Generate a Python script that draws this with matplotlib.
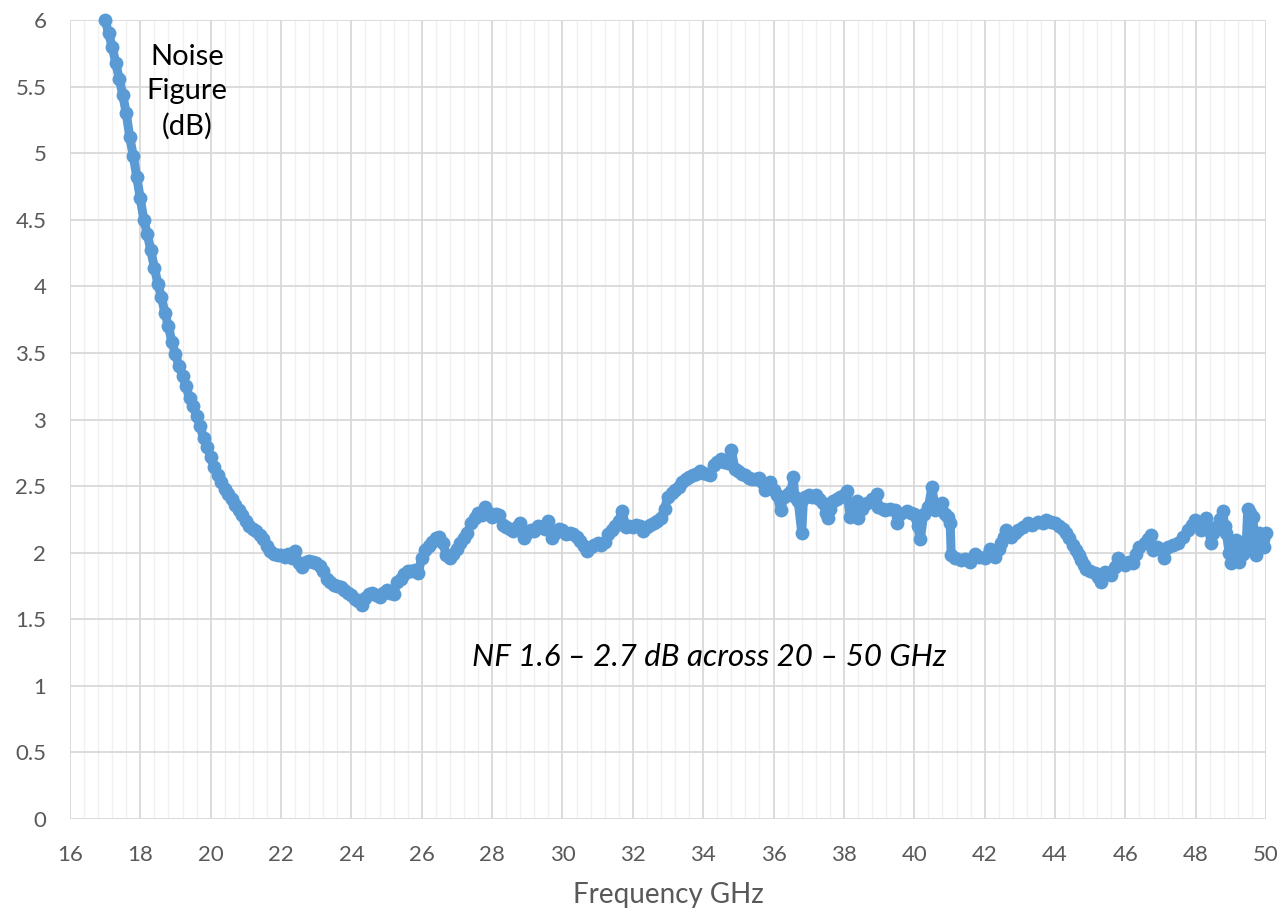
import matplotlib
matplotlib.use("Agg")
import matplotlib.pyplot as plt
from matplotlib.ticker import MultipleLocator

# frequency (GHz) and noise figure (dB)
freq = [
    17.00, 17.10, 17.20, 17.30, 17.40, 17.50, 17.60, 17.70, 17.80, 17.90,
    18.00, 18.10, 18.20, 18.30, 18.40, 18.50, 18.60, 18.70, 18.80, 18.90,
    19.00, 19.10, 19.20, 19.30, 19.40, 19.50, 19.60, 19.70, 19.80, 19.90,
    20.00, 20.10, 20.20, 20.30, 20.40, 20.50, 20.60, 20.70, 20.80, 20.90,
    21.00, 21.10, 21.20, 21.30, 21.40, 21.50, 21.60, 21.70, 21.80, 21.90,
    22.00, 22.10, 22.20, 22.30, 22.40, 22.50, 22.60, 22.70, 22.80, 22.90,
    23.00, 23.10, 23.20, 23.30, 23.40, 23.50, 23.60, 23.70, 23.80, 23.90,
    24.00, 24.10, 24.20, 24.30, 24.40, 24.50, 24.60, 24.70, 24.80, 24.90,
    25.00, 25.10, 25.20, 25.30, 25.40, 25.50, 25.60, 25.70, 25.80, 25.90,
    26.00, 26.10, 26.20, 26.30, 26.40, 26.50, 26.60, 26.70, 26.80, 26.90,
    27.00, 27.10, 27.20, 27.30, 27.40, 27.50, 27.60, 27.70, 27.80, 27.90,
    28.00, 28.10, 28.20, 28.30, 28.40, 28.50, 28.60, 28.70, 28.80, 28.90,
    29.00, 29.10, 29.20, 29.30, 29.40, 29.50, 29.60, 29.70, 29.80, 29.90,
    30.00, 30.10, 30.20, 30.30, 30.40, 30.50, 30.60, 30.70, 30.80, 30.90,
    31.00, 31.10, 31.20, 31.30, 31.40, 31.50, 31.60, 31.70, 31.80, 31.90,
    32.00, 32.10, 32.20, 32.30, 32.40, 32.50, 32.60, 32.70, 32.80, 32.90,
    33.00, 33.10, 33.20, 33.30, 33.40, 33.50, 33.60, 33.70, 33.80, 33.90,
    34.00, 34.10, 34.20, 34.30, 34.40, 34.50, 34.60, 34.70, 34.80, 34.90,
    35.00, 35.10, 35.20, 35.30, 35.40, 35.50, 35.60, 35.70, 35.75, 35.80,
    35.90, 36.00, 36.10, 36.20, 36.30, 36.40, 36.50, 36.56, 36.60, 36.70,
    36.80, 36.85, 36.90, 37.00, 37.10, 37.20, 37.30, 37.40, 37.50, 37.56,
    37.60, 37.70, 37.80, 37.90, 38.00, 38.08, 38.18, 38.25, 38.37, 38.41,
    38.50, 38.65, 38.80, 38.94, 38.98, 39.10, 39.17, 39.30, 39.46, 39.51,
    39.60, 39.79, 39.90, 39.98, 40.10, 40.17, 40.27, 40.40, 40.50, 40.60,
    40.70, 40.79, 40.88, 40.96, 41.02, 41.05, 41.15, 41.34, 41.45, 41.57,
    41.72, 41.85, 42.00, 42.14, 42.28, 42.40, 42.47, 42.55, 42.62, 42.76,
    42.85, 42.95, 43.10, 43.23, 43.35, 43.52, 43.65, 43.75, 43.90, 43.99,
    44.10, 44.23, 44.32, 44.41, 44.50, 44.60, 44.68, 44.75, 44.82, 44.89,
    45.00, 45.13, 45.22, 45.31, 45.41, 45.50, 45.60, 45.70, 45.79, 45.90,
    45.98, 46.10, 46.21, 46.30, 46.40, 46.55, 46.65, 46.73, 46.78, 46.90,
    47.02, 47.11, 47.21, 47.35, 47.49, 47.63, 47.78, 47.88, 47.97, 48.08,
    48.16, 48.30, 48.44, 48.50, 48.58, 48.68, 48.77, 48.82, 48.87, 48.95,
    49.01, 49.08, 49.15, 49.24, 49.35, 49.43, 49.48, 49.55, 49.62, 49.72,
    49.81, 49.90, 49.95, 50.00,
]
nf = [
    6.00, 5.90, 5.80, 5.68, 5.56, 5.44, 5.30, 5.12, 4.98, 4.82,
    4.66, 4.50, 4.39, 4.27, 4.14, 4.02, 3.92, 3.80, 3.70, 3.58,
    3.49, 3.40, 3.33, 3.25, 3.16, 3.10, 3.03, 2.95, 2.86, 2.79,
    2.72, 2.64, 2.58, 2.53, 2.48, 2.44, 2.40, 2.36, 2.32, 2.28,
    2.24, 2.20, 2.18, 2.16, 2.13, 2.10, 2.05, 2.01, 1.99, 1.98,
    1.98, 1.97, 1.99, 1.96, 2.01, 1.92, 1.89, 1.93, 1.94, 1.93,
    1.92, 1.90, 1.86, 1.80, 1.78, 1.76, 1.75, 1.74, 1.72, 1.70,
    1.68, 1.65, 1.64, 1.61, 1.66, 1.69, 1.70, 1.68, 1.67, 1.70,
    1.72, 1.70, 1.69, 1.78, 1.80, 1.84, 1.86, 1.86, 1.87, 1.85,
    1.96, 2.02, 2.05, 2.08, 2.11, 2.12, 2.07, 1.98, 1.96, 1.99,
    2.03, 2.07, 2.11, 2.15, 2.22, 2.26, 2.30, 2.28, 2.34, 2.30,
    2.27, 2.29, 2.28, 2.21, 2.19, 2.18, 2.16, 2.19, 2.22, 2.11,
    2.15, 2.17, 2.16, 2.20, 2.19, 2.18, 2.24, 2.11, 2.15, 2.18,
    2.17, 2.14, 2.15, 2.14, 2.12, 2.09, 2.05, 2.01, 2.04, 2.06,
    2.07, 2.06, 2.08, 2.14, 2.17, 2.20, 2.24, 2.31, 2.19, 2.20,
    2.19, 2.21, 2.20, 2.16, 2.19, 2.21, 2.22, 2.24, 2.26, 2.33,
    2.42, 2.45, 2.47, 2.49, 2.53, 2.55, 2.57, 2.58, 2.59, 2.61,
    2.60, 2.59, 2.58, 2.66, 2.68, 2.70, 2.68, 2.67, 2.77, 2.63,
    2.61, 2.59, 2.58, 2.56, 2.55, 2.55, 2.56, 2.52, 2.47, 2.50,
    2.53, 2.47, 2.43, 2.32, 2.42, 2.44, 2.46, 2.57, 2.42, 2.39,
    2.15, 2.40, 2.42, 2.43, 2.42, 2.43, 2.40, 2.37, 2.30, 2.26,
    2.33, 2.39, 2.40, 2.42, 2.43, 2.46, 2.27, 2.36, 2.39, 2.26,
    2.33, 2.37, 2.40, 2.44, 2.34, 2.33, 2.32, 2.33, 2.32, 2.22,
    2.29, 2.31, 2.30, 2.29, 2.20, 2.10, 2.29, 2.34, 2.49, 2.32,
    2.36, 2.37, 2.29, 2.27, 2.22, 1.98, 1.96, 1.945, 1.95, 1.93,
    1.99, 1.97, 1.96, 2.03, 1.97, 2.03, 2.07, 2.12, 2.17, 2.12,
    2.15, 2.17, 2.19, 2.22, 2.21, 2.23, 2.22, 2.245, 2.23, 2.22,
    2.20, 2.18, 2.15, 2.11, 2.06, 2.02, 1.98, 1.945, 1.91, 1.88,
    1.86, 1.845, 1.82, 1.78, 1.855, 1.84, 1.83, 1.89, 1.96, 1.93,
    1.91, 1.93, 1.92, 1.99, 2.045, 2.07, 2.10, 2.13, 2.02, 2.04,
    2.03, 1.96, 2.045, 2.06, 2.07, 2.12, 2.17, 2.21, 2.245, 2.20,
    2.17, 2.26, 2.07, 2.15, 2.195, 2.25, 2.31, 2.20, 2.145, 2.00,
    1.92, 2.00, 2.095, 1.93, 1.99, 2.045, 2.33, 2.30, 2.27, 1.98,
    2.145, 2.10, 2.045, 2.145,
]

plt.rcParams['font.family'] = ['Lato', 'DejaVu Sans']

fig = plt.figure(figsize=(12.88, 9.09), dpi=100)
ax = fig.add_axes([0.0543, 0.099, 0.9287, 0.879])

ax.plot(freq, nf, color="#5B9BD5", linewidth=6.5, marker="o",
        markersize=10, markeredgewidth=0, solid_joinstyle="round",
        solid_capstyle="round", zorder=3, clip_on=False)

ax.set_xlim(16, 50)
ax.set_ylim(0, 6)
ax.xaxis.set_major_locator(MultipleLocator(2))
ax.xaxis.set_minor_locator(MultipleLocator(0.4))
ax.set_yticks([0, 0.5, 1, 1.5, 2, 2.5, 3, 3.5, 4, 4.5, 5, 5.5, 6])
ax.set_yticklabels(["0", "0.5", "1", "1.5", "2", "2.5", "3", "3.5", "4", "4.5", "5", "5.5", "6"])

ax.grid(which="major", color="#D9D9D9", linewidth=1.3)
ax.grid(which="minor", axis="x", color="#F0F0F0", linewidth=1.0)
ax.set_axisbelow(True)
for s in ax.spines.values():
    s.set_visible(False)
ax.tick_params(which="both", length=0)
ax.tick_params(axis="x", pad=19, labelsize=16, labelcolor="#595959")
ax.tick_params(axis="y", pad=17, labelsize=16, labelcolor="#595959")

ax.set_xlabel("Frequency GHz", fontsize=20, color="#595959", labelpad=12)

ax.text(19.33, 5.46, "Noise\nFigure\n(dB)", fontsize=21, ha="center",
        va="center", linespacing=1.4, color="black")
ax.text(34.18, 1.22, "NF 1.6 \u2013 2.7 dB across 20 \u2013 50 GHz", fontsize=22.5,
        style="italic", ha="center", va="center", color="black")

fig.savefig("out.png", dpi=100)
